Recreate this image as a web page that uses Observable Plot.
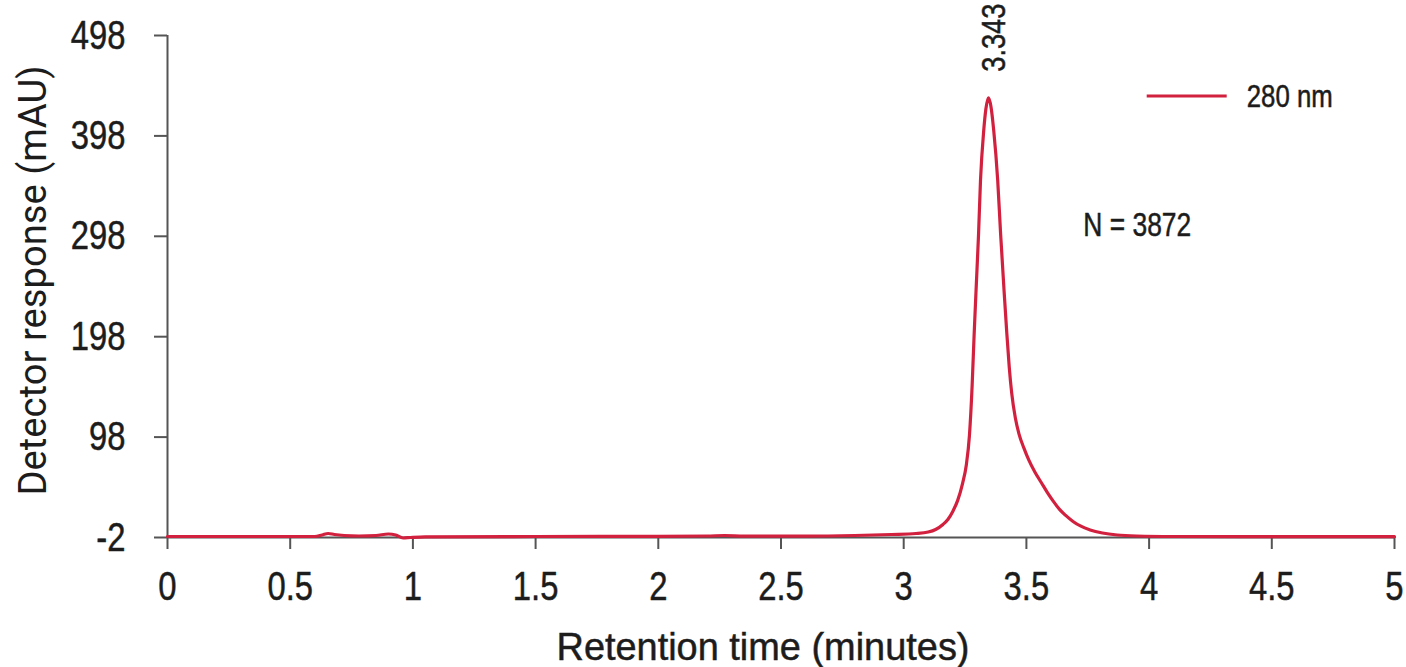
<!DOCTYPE html>
<html>
<head>
<meta charset="utf-8">
<script src="https://cdn.jsdelivr.net/npm/d3@7"></script>
<script src="https://cdn.jsdelivr.net/npm/@observablehq/plot@0.6"></script>
<style>
  html, body { margin: 0; padding: 0; background: #fff; }
  #chart { width: 1406px; height: 667px; }
</style>
</head>
<body>
<div id="chart"></div>
<script>
// Chromatogram trace at 280 nm: retention time (min) and detector response (mAU)
const time = [
  0, 0.3, 0.6, 0.63, 0.655, 0.68, 0.72, 0.78, 0.85, 0.9, 0.93, 0.96, 0.99, 1.05,
  1.5, 2.0, 2.2, 2.27, 2.35, 2.6, 2.8, 2.95, 3.05, 3.1, 3.13, 3.16, 3.18, 3.2,
  3.22, 3.24, 3.255, 3.268, 3.279, 3.287, 3.295, 3.305, 3.313, 3.326, 3.335, 3.345,
  3.355, 3.367, 3.383, 3.395, 3.41, 3.42, 3.43, 3.44, 3.455, 3.47, 3.49, 3.51,
  3.535, 3.56, 3.585, 3.61, 3.635, 3.66, 3.69, 3.72, 3.76, 3.81, 3.87, 3.95,
  4.1, 4.5, 5.0
];
const response = [
  -1, -1, -1, 0.5, 2, 1, 0, -0.5, 0, 1.5, 0.5, -2.5, -2, -1.3,
  -1, -0.8, -0.5, 0, -0.6, -0.6, 0, 1, 2, 3.5, 6, 11, 16, 24,
  35, 52, 70, 100, 150, 200, 245, 300, 354, 403, 425, 436,
  428, 403, 354, 300, 240, 202, 168, 142, 117, 101, 87, 75,
  63, 53, 43, 34, 26, 20, 14, 9.5, 5.5, 2.5, 0.5, -0.5,
  -1, -1.2, -1.2
];

const xTicks = [0, 0.5, 1, 1.5, 2, 2.5, 3, 3.5, 4, 4.5, 5];
const yTicks = [-2, 98, 198, 298, 398, 498];

const peakLabels = [{t: 3.343, v: 436, label: "3.343"}];
const notes = [{t: 3.732, v: 309, label: "N = 3872"}];
const seriesName = "280 nm";
const xTitle = "Retention time (minutes)";
const yTitle = "Detector response (mAU)";

const traceColor = "#d2203f";
const axisColor = "#555";
const textColor = "#1c1c1c";
const sans = "'Liberation Sans', Arimo, Arial, sans-serif";

const data = time.map((t, i) => ({t, v: response[i]}));

const chart = Plot.plot({
  width: 1406,
  height: 667,
  marginLeft: 167,
  marginRight: 12,
  marginTop: 35,
  marginBottom: 130,
  style: {fontFamily: sans, background: "#fff", color: textColor},
  x: {domain: [0, 5]},
  y: {domain: [-2, 498]},
  marks: [
    Plot.ruleX([0], {y1: -2, y2: 498, stroke: axisColor, strokeWidth: 2}),
    Plot.ruleY([-2], {x1: 0, x2: 5, stroke: axisColor, strokeWidth: 2}),
    Plot.axisX({
      ticks: xTicks, tickFormat: d => String(d), tickSize: 12, tickPadding: 21,
      fontSize: 41, stroke: axisColor, strokeWidth: 2, fill: textColor, label: null
    }),
    Plot.axisY({
      ticks: yTicks, tickFormat: d => String(d), tickSize: 13, tickPadding: 29,
      fontSize: 41, stroke: axisColor, strokeWidth: 2, fill: textColor, label: null
    }),
    Plot.text([xTitle], {
      frameAnchor: "bottom", textAnchor: "middle", dx: -18, dy: 110, lineAnchor: "middle",
      fontSize: 39, fill: textColor
    }),
    Plot.text([yTitle], {
      frameAnchor: "left", textAnchor: "middle", rotate: -90, dx: -134, dy: -6,
      lineAnchor: "middle", fontSize: 39, fill: textColor, fontFamily: "Roboto, sans-serif"
    }),
    Plot.line(data, {x: "t", y: "v", stroke: traceColor, strokeWidth: 3.2, curve: "monotone-x"}),
    Plot.text(peakLabels, {
      x: "t", y: "v", text: "label", rotate: -90, textAnchor: "start",
      lineAnchor: "middle", dx: 6, dy: -26, fontSize: 34, fill: textColor
    }),
    Plot.text(notes, {
      x: "t", y: "v", text: "label", textAnchor: "start", lineAnchor: "middle",
      fontSize: 33, fill: textColor
    })
  ]
});

// Legend swatch and series name in the top-right corner of the plot
const svg = d3.select(chart);
const lg = svg.append("g").attr("transform", "translate(1146.7, 96)");
lg.append("line").attr("x1", 0).attr("x2", 80).attr("y1", 0).attr("y2", 0)
  .attr("stroke", traceColor).attr("stroke-width", 3.2);
lg.append("text").attr("x", 100).attr("y", 0).attr("dy", "0.35em")
  .attr("text-anchor", "start")
  .attr("font-size", 31).attr("font-family", sans).attr("fill", textColor)
  .text(seriesName);

document.getElementById("chart").appendChild(chart);

// Condensed lettering: squeeze every label horizontally and thicken the strokes
// slightly; the axis titles and legend entry get fixed lengths.
const fixedLength = new Map([[xTitle, 413], [yTitle, 430], [seriesName, 86]]);
svg.selectAll("text").each(function () {
  const natural = this.getComputedTextLength();
  const target = fixedLength.has(this.textContent) ? fixedLength.get(this.textContent) : natural * 0.8;
  this.setAttribute("textLength", target.toFixed(1));
  this.setAttribute("lengthAdjust", "spacingAndGlyphs");
  if (this.textContent !== yTitle) {
    this.setAttribute("stroke", textColor);
    this.setAttribute("stroke-width", 0.5);
    this.setAttribute("paint-order", "fill");
  }
});
</script>
</body>
</html>
